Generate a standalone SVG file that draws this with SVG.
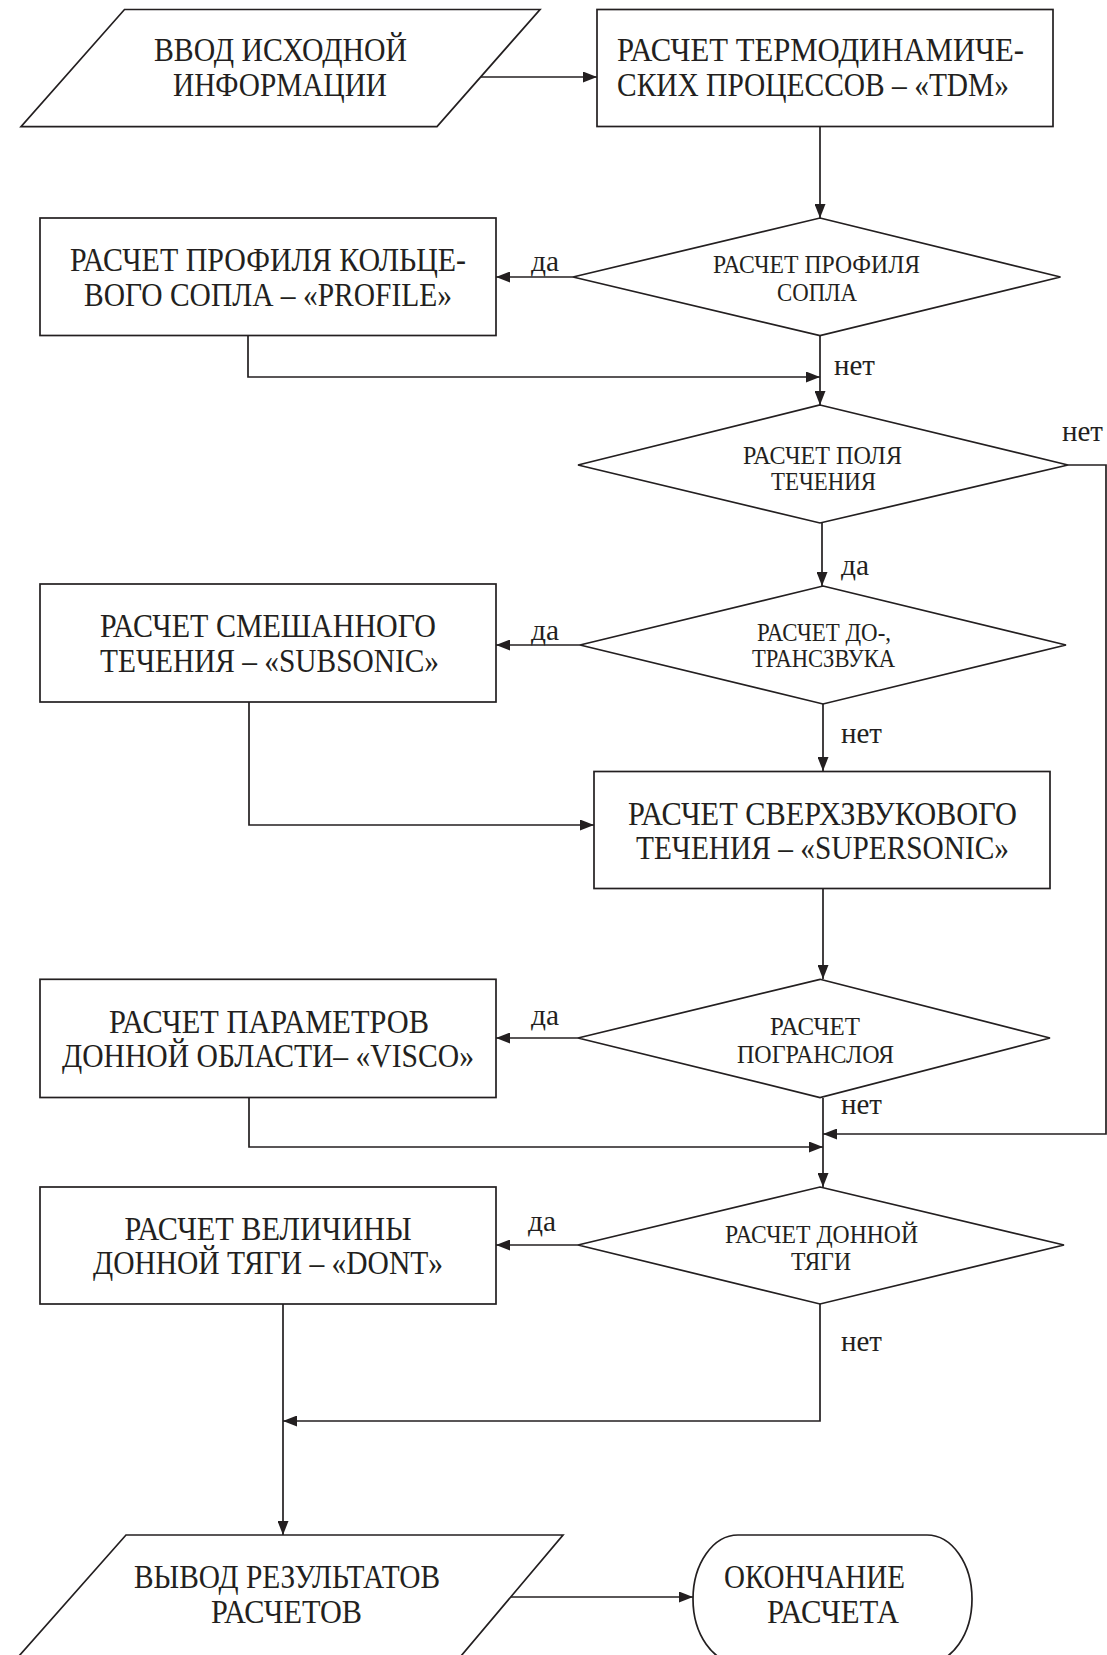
<svg xmlns="http://www.w3.org/2000/svg" width="1107" height="1655" viewBox="0 0 1107 1655">
<style>
.s{fill:#fff;stroke:#231f20;stroke-width:1.7}
.c{fill:none;stroke:#231f20;stroke-width:1.7}
text{font-family:"Liberation Serif","Times New Roman",serif;fill:#231f20}
.t{font-size:33px}
.d{font-size:25px}
.l{font-size:30px}
</style>
<defs>
<marker id="ah" viewBox="0 0 14 11" refX="14" refY="5.5" markerWidth="14" markerHeight="11" markerUnits="userSpaceOnUse" orient="auto">
<path d="M0,0 L14,5.5 L0,11 z" fill="#231f20"/>
</marker>
</defs>
<g id="connectors">
<line class="c" x1="481" y1="77" x2="597" y2="77" marker-end="url(#ah)"/>
<line class="c" x1="820" y1="127" x2="820" y2="218" marker-end="url(#ah)"/>
<line class="c" x1="573" y1="277" x2="496" y2="277" marker-end="url(#ah)"/>
<polyline class="c" points="248,335 248,377 820,377" marker-end="url(#ah)"/>
<line class="c" x1="820" y1="336" x2="820" y2="405" marker-end="url(#ah)"/>
<polyline class="c" points="1068,465 1106,465 1106,1134 823,1134" marker-end="url(#ah)"/>
<line class="c" x1="822" y1="523" x2="822" y2="586" marker-end="url(#ah)"/>
<line class="c" x1="580" y1="645" x2="496" y2="645" marker-end="url(#ah)"/>
<line class="c" x1="823" y1="704" x2="823" y2="771" marker-end="url(#ah)"/>
<polyline class="c" points="249,702 249,825 594,825" marker-end="url(#ah)"/>
<line class="c" x1="823" y1="889" x2="823" y2="979" marker-end="url(#ah)"/>
<line class="c" x1="578" y1="1038" x2="496" y2="1038" marker-end="url(#ah)"/>
<polyline class="c" points="249,1098 249,1147 823,1147" marker-end="url(#ah)"/>
<line class="c" x1="823" y1="1098" x2="823" y2="1187" marker-end="url(#ah)"/>
<line class="c" x1="578" y1="1245" x2="496" y2="1245" marker-end="url(#ah)"/>
<polyline class="c" points="820,1304 820,1421 283,1421" marker-end="url(#ah)"/>
<line class="c" x1="283" y1="1304" x2="283" y2="1535" marker-end="url(#ah)"/>
<line class="c" x1="510" y1="1597" x2="693" y2="1597" marker-end="url(#ah)"/>
</g>
<g id="labels">
<text class="l" x="531" y="271" textLength="28" lengthAdjust="spacingAndGlyphs">да</text>
<text class="l" x="834" y="375" textLength="41" lengthAdjust="spacingAndGlyphs">нет</text>
<text class="l" x="1062" y="441" textLength="41" lengthAdjust="spacingAndGlyphs">нет</text>
<text class="l" x="841" y="575" textLength="28" lengthAdjust="spacingAndGlyphs">да</text>
<text class="l" x="531" y="640" textLength="28" lengthAdjust="spacingAndGlyphs">да</text>
<text class="l" x="841" y="743" textLength="41" lengthAdjust="spacingAndGlyphs">нет</text>
<text class="l" x="531" y="1025" textLength="28" lengthAdjust="spacingAndGlyphs">да</text>
<text class="l" x="841" y="1114" textLength="41" lengthAdjust="spacingAndGlyphs">нет</text>
<text class="l" x="528" y="1231" textLength="28" lengthAdjust="spacingAndGlyphs">да</text>
<text class="l" x="841" y="1351" textLength="41" lengthAdjust="spacingAndGlyphs">нет</text>
</g>
<g id="input">
<polygon class="s" points="124.5,9.5 540,9.5 437,126.6 21,126.6"/>
<text class="t" x="154" y="61" textLength="253" lengthAdjust="spacingAndGlyphs">ВВОД ИСХОДНОЙ</text>
<text class="t" x="173" y="96" textLength="214" lengthAdjust="spacingAndGlyphs">ИНФОРМАЦИИ</text>
</g>
<g id="tdm">
<rect class="s" x="597" y="9.5" width="456" height="117"/>
<text class="t" x="617" y="61" textLength="407" lengthAdjust="spacingAndGlyphs">РАСЧЕТ ТЕРМОДИНАМИЧЕ-</text>
<text class="t" x="617" y="96" textLength="392" lengthAdjust="spacingAndGlyphs">СКИХ ПРОЦЕССОВ – «TDM»</text>
</g>
<g id="profile">
<rect class="s" x="40" y="218" width="456" height="117.5"/>
<text class="t" x="70" y="271" textLength="396" lengthAdjust="spacingAndGlyphs">РАСЧЕТ ПРОФИЛЯ КОЛЬЦЕ-</text>
<text class="t" x="84" y="306" textLength="368" lengthAdjust="spacingAndGlyphs">ВОГО СОПЛА – «PROFILE»</text>
</g>
<g id="dec-profile">
<polygon class="s" points="820,218 1060.5,277 820,335.6 573,277"/>
<text class="d" x="713" y="273" textLength="207" lengthAdjust="spacingAndGlyphs">РАСЧЕТ ПРОФИЛЯ</text>
<text class="d" x="777" y="301" textLength="80" lengthAdjust="spacingAndGlyphs">СОПЛА</text>
</g>
<g id="dec-field">
<polygon class="s" points="820,405 1068,465 820,523 578,465"/>
<text class="d" x="743" y="464" textLength="159" lengthAdjust="spacingAndGlyphs">РАСЧЕТ ПОЛЯ</text>
<text class="d" x="771" y="490" textLength="105" lengthAdjust="spacingAndGlyphs">ТЕЧЕНИЯ</text>
</g>
<g id="dec-trans">
<polygon class="s" points="823,586 1066,645 823,704 580,645"/>
<text class="d" x="757" y="641" textLength="134" lengthAdjust="spacingAndGlyphs">РАСЧЕТ ДО-,</text>
<text class="d" x="752" y="667" textLength="143" lengthAdjust="spacingAndGlyphs">ТРАНСЗВУКА</text>
</g>
<g id="subsonic">
<rect class="s" x="40" y="584" width="456" height="118"/>
<text class="t" x="100" y="637" textLength="336" lengthAdjust="spacingAndGlyphs">РАСЧЕТ СМЕШАННОГО</text>
<text class="t" x="100" y="672" textLength="339" lengthAdjust="spacingAndGlyphs">ТЕЧЕНИЯ – «SUBSONIC»</text>
</g>
<g id="supersonic">
<rect class="s" x="594" y="771.5" width="456" height="117"/>
<text class="t" x="628" y="825" textLength="389" lengthAdjust="spacingAndGlyphs">РАСЧЕТ СВЕРХЗВУКОВОГО</text>
<text class="t" x="636" y="859" textLength="373" lengthAdjust="spacingAndGlyphs">ТЕЧЕНИЯ – «SUPERSONIC»</text>
</g>
<g id="dec-boundary">
<polygon class="s" points="820,979.3 1050,1038 820,1097.5 578,1038"/>
<text class="d" x="770" y="1035" textLength="90" lengthAdjust="spacingAndGlyphs">РАСЧЕТ</text>
<text class="d" x="737" y="1063" textLength="157" lengthAdjust="spacingAndGlyphs">ПОГРАНСЛОЯ</text>
</g>
<g id="visco">
<rect class="s" x="40" y="979.3" width="456" height="118.2"/>
<text class="t" x="109" y="1033" textLength="320" lengthAdjust="spacingAndGlyphs">РАСЧЕТ ПАРАМЕТРОВ</text>
<text class="t" x="62" y="1067" textLength="412" lengthAdjust="spacingAndGlyphs">ДОННОЙ ОБЛАСТИ– «VISCO»</text>
</g>
<g id="dec-thrust">
<polygon class="s" points="820,1187 1064,1245 820,1304 578,1245"/>
<text class="d" x="725" y="1243" textLength="193" lengthAdjust="spacingAndGlyphs">РАСЧЕТ ДОННОЙ</text>
<text class="d" x="791" y="1270" textLength="60" lengthAdjust="spacingAndGlyphs">ТЯГИ</text>
</g>
<g id="dont">
<rect class="s" x="40" y="1187" width="456" height="117"/>
<text class="t" x="124.5" y="1240" textLength="287" lengthAdjust="spacingAndGlyphs">РАСЧЕТ ВЕЛИЧИНЫ</text>
<text class="t" x="93" y="1274" textLength="350" lengthAdjust="spacingAndGlyphs">ДОННОЙ ТЯГИ – «DONT»</text>
</g>
<g id="output">
<polygon class="s" points="126,1535 563,1535 461,1656 19,1656"/>
<text class="t" x="134" y="1588" textLength="306" lengthAdjust="spacingAndGlyphs">ВЫВОД РЕЗУЛЬТАТОВ</text>
<text class="t" x="211" y="1623" textLength="151" lengthAdjust="spacingAndGlyphs">РАСЧЕТОВ</text>
</g>
<g id="end">
<rect class="s" x="693" y="1535" width="279" height="128" rx="45" ry="64"/>
<text class="t" x="724" y="1588" textLength="181" lengthAdjust="spacingAndGlyphs">ОКОНЧАНИЕ</text>
<text class="t" x="767" y="1623" textLength="132" lengthAdjust="spacingAndGlyphs">РАСЧЕТА</text>
</g>
</svg>
